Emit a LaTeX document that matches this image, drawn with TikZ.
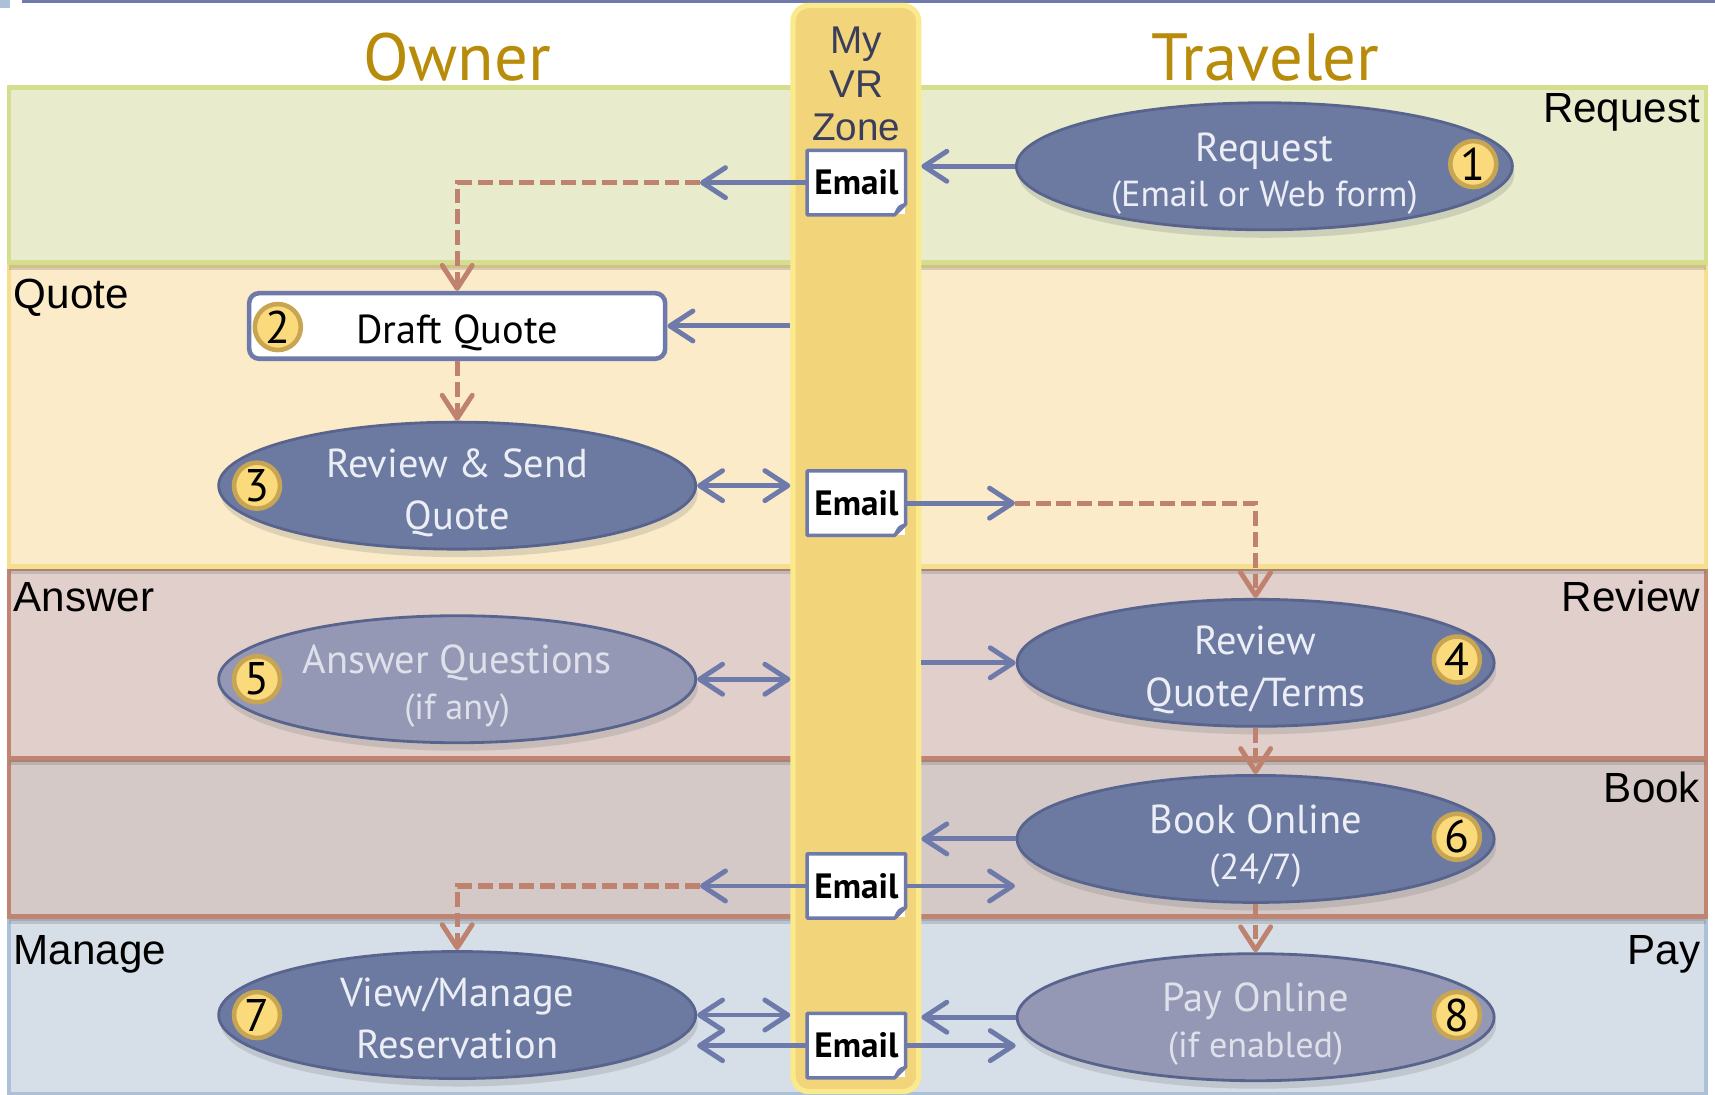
\documentclass[tikz,border=0pt]{standalone}
\usepackage{fontspec}
\setmainfont{Liberation Sans}
\newfontfamily\flowfont{PT Sans}
\usepackage{tikz}
\usetikzlibrary{calc,fit,shapes.geometric,shadows,arrows.meta}

\definecolor{slate}{RGB}{108,121,160}
\definecolor{slateedge}{RGB}{88,100,142}
\definecolor{fadeslate}{RGB}{148,152,180}
\definecolor{tasktext}{RGB}{236,238,246}
\definecolor{fadetext}{RGB}{222,224,234}
\definecolor{flowblue}{RGB}{110,123,170}
\definecolor{handbrown}{RGB}{190,130,110}
\definecolor{gold}{RGB}{184,140,10}
\definecolor{badgefill}{RGB}{250,218,122}
\definecolor{badgeedge}{RGB}{200,165,82}
\definecolor{zonefill}{RGB}{242,212,122}
\definecolor{zoneedge}{RGB}{250,234,140}
\definecolor{zonetext}{RGB}{58,62,90}
\definecolor{requestfill}{RGB}{232,236,204}
\definecolor{requestedge}{RGB}{212,222,140}
\definecolor{quotefill}{RGB}{252,235,200}
\definecolor{quoteedge}{RGB}{245,222,140}
\definecolor{answerfill}{RGB}{224,207,203}
\definecolor{bookfill}{RGB}{212,201,199}
\definecolor{bookedge}{RGB}{192,132,112}
\definecolor{managefill}{RGB}{214,222,232}
\definecolor{manageedge}{RGB}{172,192,216}

% struts that keep two-line step texts at the same place in every ellipse
\newcommand{\tophang}{\rule{0pt}{13.5pt}}
\newcommand{\bothang}{\rule[-3.5pt]{0pt}{3.5pt}}
\newcommand{\subline}{\fontsize{10.3}{13.6}\selectfont}

\tikzset{
  lane/.style={line width=1.2pt, drop shadow={shadow xshift=0mm, shadow yshift=-0.7mm, opacity=0.3}},
  lanelabel/.style={font=\fontsize{12}{12}\selectfont, inner sep=0pt},
  title/.style={font=\flowfont\fontsize{19}{19}\selectfont, text=gold, inner sep=0pt},
  zonebar/.style={rounded corners=1.6mm, fill=zonefill, draw=zoneedge, line width=1.5pt, inner sep=0pt},
  zonelabel/.style={font=\fontsize{11}{12.4}\selectfont, text=zonetext, align=center, inner sep=0pt},
  task/.style={ellipse, fill=slate, draw=slateedge, line width=0.8pt, minimum width=47.7mm, minimum height=12.7mm,
    inner xsep=0pt, inner ysep=-4pt, text=tasktext, align=center, font=\flowfont\fontsize{11.5}{14.8}\selectfont,
    drop shadow={shadow xshift=0.2mm, shadow yshift=-0.8mm, opacity=0.25}},
  faded/.style={task, fill=fadeslate, text=fadetext},
  draftbox/.style={rectangle, rounded corners=1mm, fill=white, draw=flowblue, line width=1.3pt,
    minimum width=41.6mm, minimum height=6.2mm, text height=11pt, text depth=1pt,
    font=\flowfont\fontsize{11.5}{11.5}\selectfont},
  badge/.style={circle, fill=badgefill, draw=badgeedge, line width=1.3pt, minimum size=4.6mm, inner sep=0pt,
    font=\flowfont\fontsize{13}{13}\selectfont},
  email/.style={rectangle, fill=white, minimum width=9.7mm, minimum height=6.3mm, inner sep=0pt,
    font=\flowfont\bfseries\fontsize{10}{10}\selectfont},
  emailedge/.style={draw=flowblue, line width=1pt, line join=round},
  barb/.style={-{Straight Barb[length=2.3mm, width=3mm, line width=1.4pt, round]}},
  flow/.style={draw=flowblue, line width=1.4pt, barb},
  both/.style={draw=flowblue, line width=1.4pt,
    {Straight Barb[length=2.3mm, width=3mm, line width=1.4pt, round]}-{Straight Barb[length=2.3mm, width=3mm, line width=1.4pt, round]}},
  handoff/.style={draw=handbrown, line width=1.45pt, dash pattern=on 4.2pt off 1.7pt, barb}
}

% Email note with a folded corner
\newcommand{\emailnote}[2]{%
  \node[email] (#1) at (#2) {Email};
  \draw[emailedge] (#1.north west) -- (#1.north east) -- ([yshift=1.1mm]#1.south east)
    -- ([xshift=-1.1mm]#1.south east) -- (#1.south west) -- cycle;
  \draw[emailedge, line width=0.6pt] ([xshift=-1.1mm]#1.south east) .. controls ([xshift=-0.7mm, yshift=0.9mm]#1.south east) .. ([yshift=1.1mm]#1.south east);
}

\begin{document}
\begin{tikzpicture}[x=0.10938mm, y=-0.10938mm]
  \useasboundingbox (0,0) rectangle (1568,1001);
  \fill[white] (0,0) rectangle (1568,1001);
  \fill[flowblue] (20,0) rectangle (1568,3);
  \fill[manageedge] (0,0) rectangle (9,7);

  % lanes, bottom one first so that each shadow falls on the lane below
  \draw[lane, fill=managefill, draw=manageedge] (8,840) rectangle (1560,1000);
  \draw[lane, fill=bookfill, draw=bookedge] (8,695) rectangle (1560,838);
  \draw[lane, fill=answerfill, draw=bookedge] (8,520) rectangle (1560,693);
  \draw[lane, fill=quotefill, draw=quoteedge] (8,243) rectangle (1560,518);
  \draw[lane, fill=requestfill, draw=requestedge] (8,80) rectangle (1560,240);

  \node[lanelabel, anchor=base east] (lrequest) at (1555,112) {Request};
  \node[lanelabel, anchor=base west] (lquote) at (12,282) {Quote};
  \node[lanelabel, anchor=base west] (lanswer) at (12,559) {Answer};
  \node[lanelabel, anchor=base east] (lreview) at (1555,559) {Review};
  \node[lanelabel, anchor=base east] (lbook) at (1555,734) {Book};
  \node[lanelabel, anchor=base west] (lmanage) at (12,882) {Manage};
  \node[lanelabel, anchor=base east] (lpay) at (1555,882) {Pay};

  \node[title, anchor=base] (owner) at (418,74) {Owner};
  \node[title, anchor=base] (traveler) at (1157,74) {Traveler};

  % the My VR Zone column
  \node[zonebar, fit={(725,5) (840,998)}] (zone) {};
  \node[zonelabel, anchor=north] (zonename) at (783,24) {My\\VR\\Zone};

  \emailnote{mail1}{783,167}
  \emailnote{mail2}{783,460}
  \emailnote{mail3}{783,810}
  \emailnote{mail4}{783,956}

  % steps
  \node[task, minimum width=49.6mm] (request) at (1156,152) {\tophang Request\\[-1.8pt]{\subline(Email or Web form)}\bothang};
  \node[draftbox] (draft) at (418,298) {Draft Quote};
  \node[task] (send) at (418,444) {\tophang Review \& Send\\Quote\bothang};
  \node[task] (terms) at (1148,606) {\tophang Review\\Quote/Terms\bothang};
  \node[faded] (answer) at (418,621) {\tophang Answer Questions\\[-1.8pt]{\subline(if any)}\bothang};
  \node[task] (book) at (1148,767) {\tophang Book Online\\[-1.8pt]{\subline(24/7)}\bothang};
  \node[task] (manage) at (418,928) {\tophang View/Manage\\Reservation\bothang};
  \node[faded] (pay) at (1148,930) {\tophang Pay Online\\[-1.8pt]{\subline(if enabled)}\bothang};

  \node[badge] (n1) at (1347,150) {1};
  \node[badge] (n2) at (254,299) {2};
  \node[badge] (n3) at (235,444) {3};
  \node[badge] (n4) at (1332,603) {4};
  \node[badge] (n5) at (235,621) {5};
  \node[badge] (n6) at (1332,765) {6};
  \node[badge] (n7) at (235,928) {7};
  \node[badge] (n8) at (1332,928) {8};

  % connectors
  \coordinate (turn1) at (640,167);
  \coordinate (turn2) at (928,460);
  \coordinate (turn3) at (640,810);
  \coordinate (out3) at (928,810);

  \draw[flow] (request.west) -- (request.west -| zone.east);
  \draw[flow] (mail1.west) -- (turn1);
  \draw[handoff] (turn1) -| (draft.north);
  \draw[flow] (draft.east -| zone.west) -- (draft.east);
  \draw[handoff] (draft.south) -- (send.north);
  \draw[both] (send.east) -- (send.east -| zone.west);
  \draw[flow] (mail2.east) -- (turn2);
  \draw[handoff] (turn2) -| (terms.north);
  \draw[both] (answer.east) -- (answer.east -| zone.west);
  \draw[flow] (terms.west -| zone.east) -- (terms.west);
  \draw[handoff] (terms.south) -- (book.north);
  \draw[flow] (book.west) -- (book.west -| zone.east);
  \draw[flow] (mail3.west) -- (turn3);
  \draw[handoff] (turn3) -| (manage.north);
  \draw[flow] (mail3.east) -- (out3);
  \draw[handoff] (book.south) -- (pay.north);
  \draw[both] (manage.east) -- (manage.east -| zone.west);
  \draw[flow] (mail4.west) -- (mail4.west -| manage.east);
  \draw[flow] (pay.west) -- (pay.west -| zone.east);
  \draw[flow] (mail4.east) -- (mail4.east -| pay.west);
\end{tikzpicture}
\end{document}
